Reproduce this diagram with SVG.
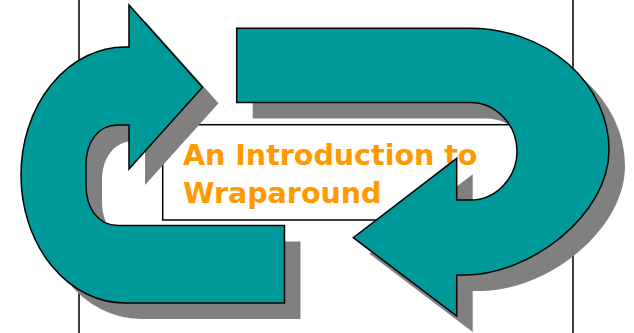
<svg xmlns="http://www.w3.org/2000/svg" width="634" height="333" viewBox="0 0 634 333">
<style>
.rule{stroke:#000;stroke-width:1.5;fill:none}
.shadow{fill:#808080;stroke:none}
.arrow{fill:#009999;stroke:#000;stroke-width:1.5;stroke-linejoin:miter}
.box{fill:#fff;stroke:#000;stroke-width:1.5}
.title{font-family:"DejaVu Sans",Verdana,sans-serif;font-weight:bold;font-size:28.5px;fill:#FF9900}
</style>
<defs>
<path id="leftArrowShape" d="M129,5 L202.5,87.3 L129,169 V125 H118 C98,125 86,142 86,165 V185 C86,208 98,225.5 118,225.5 H284.5 V303 H125 A104,128 0 0 1 125,47 H129 Z"/>
<path id="rightArrowShape" d="M236.7,28.3 H470 A139,121.7 0 0 1 609,150 C609,215 530,275 465,275 H456.7 V316 L353.3,237.7 L456.7,158.3 V200 H470 A47,49 0 0 0 517,151 A47,49 0 0 0 470,102.5 H236.7 Z"/>
</defs>
<g id="connectors">
<line class="rule" x1="79" y1="0" x2="79" y2="333"/>
<line class="rule" x1="573" y1="0" x2="573" y2="333"/>
</g>
<g id="titleBox">
<rect class="box" x="162.7" y="124.7" width="357" height="95.3"/>
<text class="title" x="183" y="165">An Introduction to</text>
<text class="title" x="183" y="203.3">Wraparound</text>
</g>
<g id="shadows">
<use href="#leftArrowShape" class="shadow" transform="translate(16,16)"/>
<use href="#rightArrowShape" class="shadow" transform="translate(16,16)"/>
</g>
<g id="leftArrow">
<use href="#leftArrowShape" class="arrow"/>
</g>
<g id="rightArrow">
<use href="#rightArrowShape" class="arrow"/>
</g>
</svg>
